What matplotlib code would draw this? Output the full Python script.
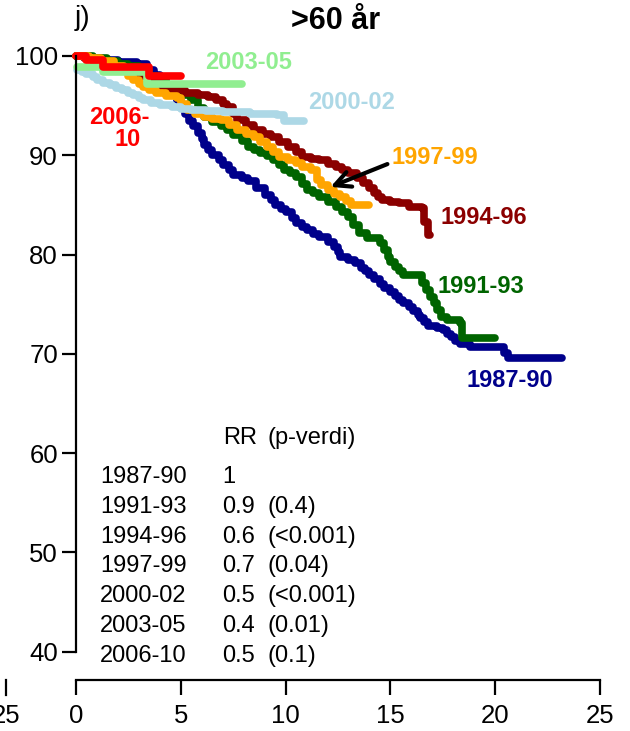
import numpy as np
import matplotlib.pyplot as plt
from matplotlib.lines import Line2D

plt.rcParams['font.family'] = ['Liberation Sans', 'DejaVu Sans']

# Kaplan-Meier steps per period: (years, % alive)
t_8790 = [0, 0.6, 1.2, 2.0, 2.9, 3.4, 3.7, 4.0, 4.3, 4.6, 4.8, 5.0, 5.2, 5.4, 5.6, 5.8, 6.0,
          6.1, 6.3, 6.5, 6.8, 7.0, 7.3, 7.5, 7.9, 8.2, 8.6, 9.0, 9.3, 9.5, 9.8, 10.0, 10.3,
          10.5, 10.8, 11.0, 11.3, 11.6, 12.0, 12.3, 12.5, 12.6, 13.0, 13.3, 13.6, 13.8, 14.0,
          14.2, 14.5, 14.7, 15.0, 15.2, 15.4, 15.6, 15.9, 16.1, 16.3, 16.4, 16.6, 16.8, 17.2,
          17.5, 17.7, 17.9, 18.1, 18.3, 18.8, 20.2, 20.4, 20.6, 23.2]
s_8790 = [100, 99.8, 99.6, 99.4, 99.2, 98.6, 98.1, 97.6, 96.9, 96.2, 95.5, 94.8, 94.2, 93.5,
          92.9, 92.2, 91.6, 91.0, 90.5, 90.0, 89.5, 89.0, 88.5, 88.0, 87.7, 87.4, 86.7, 86.0,
          85.5, 85.0, 84.6, 84.3, 83.7, 83.2, 82.8, 82.5, 82.1, 81.8, 81.3, 80.8, 80.3, 79.8,
          79.5, 79.2, 78.7, 78.3, 77.9, 77.5, 77.0, 76.6, 76.2, 75.8, 75.4, 75.1, 74.7, 74.3,
          73.9, 73.6, 73.2, 72.8, 72.6, 72.4, 72.0, 71.7, 71.3, 71.0, 70.7, 70.7, 70.1, 69.6,
          69.6]

t_9193 = [0, 0.8, 1.5, 2.0, 2.5, 3.0, 3.5, 3.9, 4.3, 4.7, 5.0, 5.5, 5.8, 6.1, 6.5, 6.9, 7.2,
          7.5, 7.9, 8.2, 8.5, 8.8, 9.1, 9.4, 9.7, 9.9, 10.2, 10.5, 10.8, 11.0, 11.3, 11.6, 12.0,
          12.4, 12.7, 13.0, 13.2, 13.5, 13.9, 14.5, 14.7, 14.9, 15.0, 15.2, 15.4, 15.6, 16.3,
          16.5, 16.7, 16.9, 17.1, 17.2, 17.4, 17.7, 18.3, 18.4, 20.0]
s_9193 = [100, 99.8, 99.5, 99.2, 99.0, 98.5, 98.0, 97.5, 97.0, 96.5, 96.1, 95.6, 94.8, 93.9,
          93.4, 92.9, 92.5, 92.0, 91.4, 90.8, 90.5, 90.2, 89.9, 89.5, 89.0, 88.5, 88.2, 87.8,
          87.1, 86.5, 86.2, 85.8, 85.3, 84.8, 84.3, 83.8, 83.0, 82.2, 81.7, 81.2, 80.5, 79.8,
          79.3, 78.8, 78.3, 77.9, 77.9, 77.1, 76.4, 75.7, 75.1, 74.4, 73.7, 73.4, 73.1, 71.6,
          71.6]

t_9496 = [0, 0.4, 0.8, 1.1, 1.5, 2.0, 2.5, 3.0, 3.5, 4.0, 4.5, 5.2, 5.8, 6.3, 6.7, 7.0, 7.2,
          7.5, 7.7, 8.1, 8.5, 8.9, 9.3, 9.7, 10.1, 10.5, 10.8, 11.2, 11.6, 12.0, 12.4, 12.7,
          13.0, 13.4, 13.7, 14.0, 14.2, 14.4, 14.6, 15.0, 15.4, 15.9, 16.5, 16.6, 16.8, 16.9]
s_9496 = [100, 99.8, 99.5, 99.2, 99.0, 98.8, 98.5, 98.0, 97.5, 97.0, 96.6, 96.3, 96.1, 95.9,
          95.6, 95.2, 94.9, 94.2, 93.6, 93.0, 92.5, 92.1, 91.8, 91.3, 90.8, 90.3, 89.8, 89.6,
          89.5, 89.1, 88.8, 88.5, 88.2, 87.7, 87.2, 86.7, 86.2, 85.8, 85.5, 85.3, 85.2, 84.8,
          84.7, 83.3, 82.0, 82.0]

t_9799 = [0, 0.6, 1.2, 1.8, 2.3, 2.5, 2.7, 3.0, 3.2, 3.5, 3.8, 4.3, 4.8, 5.0, 5.3, 5.7, 6.1,
          6.5, 6.9, 7.3, 7.7, 8.1, 8.5, 8.8, 9.1, 9.4, 9.7, 10.1, 10.5, 10.8, 11.2, 11.5, 11.7,
          12.0, 12.3, 12.6, 12.9, 13.1, 14.0]
s_9799 = [100, 99.8, 99.5, 99.0, 98.5, 98.0, 97.6, 97.2, 96.9, 96.6, 96.3, 96.0, 95.8, 95.2,
          94.6, 94.2, 93.9, 93.7, 93.6, 93.0, 92.5, 92.1, 91.8, 91.3, 90.8, 90.3, 89.8, 89.5,
          89.2, 88.8, 88.5, 87.5, 87.0, 86.5, 86.1, 85.8, 85.4, 85.0, 85.0]

t_0002 = [0.05, 0.3, 0.5, 0.8, 1.0, 1.3, 1.6, 1.9, 2.2, 2.5, 2.7, 3.0, 3.2, 3.6, 4.0, 4.6,
          5.0, 5.5, 6.2, 7.0, 8.3, 9.6, 9.9, 10.9]
s_0002 = [98.6, 98.4, 98.2, 97.9, 97.6, 97.3, 97.1, 96.8, 96.6, 96.3, 96.1, 95.8, 95.6, 95.3,
          95.1, 94.9, 94.7, 94.6, 94.5, 94.4, 94.2, 94.1, 93.5, 93.5]

t_0305 = [0.05, 1.3, 3.4, 7.9]
s_0305 = [98.9, 98.4, 97.2, 97.2]

t_0610 = [0, 0.5, 1.3, 3.5, 5.0]
s_0610 = [100, 99.6, 98.9, 98.0, 98.0]

periods = ['1987-90', '1991-93', '1994-96', '1997-99', '2000-02', '2003-05', '2006-10']
rr = ['1', '0.9', '0.6', '0.7', '0.5', '0.4', '0.5']
pval = ['', '(0.4)', '(<0.001)', '(0.04)', '(<0.001)', '(0.01)', '(0.1)']

times = [t_8790, t_9193, t_9496, t_9799, t_0002, t_0305, t_0610]
surv = [s_8790, s_9193, s_9496, s_9799, s_0002, s_0305, s_0610]
colors = ['#00008B', '#006400', '#8B0000', '#FFA500', '#ADD8E6', '#90EE90', '#FF0000']

fig = plt.figure(figsize=(6.3, 7.31), dpi=100)
ax = fig.add_axes([76 / 630, 51 / 731, 524 / 630, 640 / 731])

for t, s, c in zip(times, surv, colors):
    ax.plot(t, s, drawstyle='steps-post', color=c, lw=5.5,
            solid_capstyle='round', solid_joinstyle='round', clip_on=False)

ax.set_xlim(0, 25)
ax.set_ylim(37.16, 101.61)
for side in ['top', 'right']:
    ax.spines[side].set_visible(False)
ax.spines['left'].set_bounds(40, 100)
ax.spines['bottom'].set_bounds(0, 25)
for side in ['left', 'bottom']:
    ax.spines[side].set_linewidth(1.6)
ax.set_xticks([0, 5, 10, 15, 20, 25])
ax.set_yticks([40, 50, 60, 70, 80, 90, 100])
ax.tick_params(axis='y', length=10, width=1.6, pad=3, labelsize=18.5)
ax.tick_params(axis='x', length=11, width=1.6, pad=6, labelsize=18.5)

# curve labels
lab_kw = dict(fontsize=17, fontweight='bold', ha='center', va='center')
ax.text(8.21, 99.3, '2003-05', color='#90EE90', **lab_kw)
ax.text(13.17, 95.27, '2000-02', color='#ADD8E6', **lab_kw)
ax.text(17.13, 89.73, '1997-99', color='#FFA500', **lab_kw)
ax.text(19.47, 83.69, '1994-96', color='#8B0000', **lab_kw)
ax.text(19.32, 76.74, '1991-93', color='#006400', **lab_kw)
ax.text(20.71, 67.37, '1987-90', color='#00008B', **lab_kw)
ax.text(2.05, 93.76, '2006-', color='#FF0000', **lab_kw)
ax.text(2.48, 91.64, '10', color='#FF0000', **lab_kw)

ax.annotate('', xy=(12.02, 86.71), xytext=(14.98, 89.22),
            arrowprops=dict(arrowstyle='->', lw=3, color='black', mutation_scale=28))

# RR table
ax.text(7.0, 61.5, 'RR', fontsize=17, va='center')
ax.text(9.16, 61.5, '(p-verdi)', fontsize=17, va='center')
for i, (p, r, pv) in enumerate(zip(periods, rr, pval)):
    y = 57.6 - 3.0 * i
    ax.text(1.15, y, p, fontsize=17, va='center')
    ax.text(6.97, y, r, fontsize=17, va='center')
    ax.text(9.16, y, pv, fontsize=17, va='center')

fig.text(336 / 630, 1 - 21 / 731, '>60 år', fontsize=22, fontweight='bold',
         ha='center', va='center')
fig.text(82 / 630, 1 - 18 / 731, 'j)', fontsize=20, ha='center', va='center')

# neighbouring panel's last x tick
fig.add_artist(Line2D([6 / 630, 6 / 630], [51 / 731, 36 / 731], color='black', lw=1.6,
                      transform=fig.transFigure))
fig.text(6 / 630, 1 - 716 / 731, '25', fontsize=18.5, ha='center', va='center')

fig.savefig('out.png', dpi=100)
